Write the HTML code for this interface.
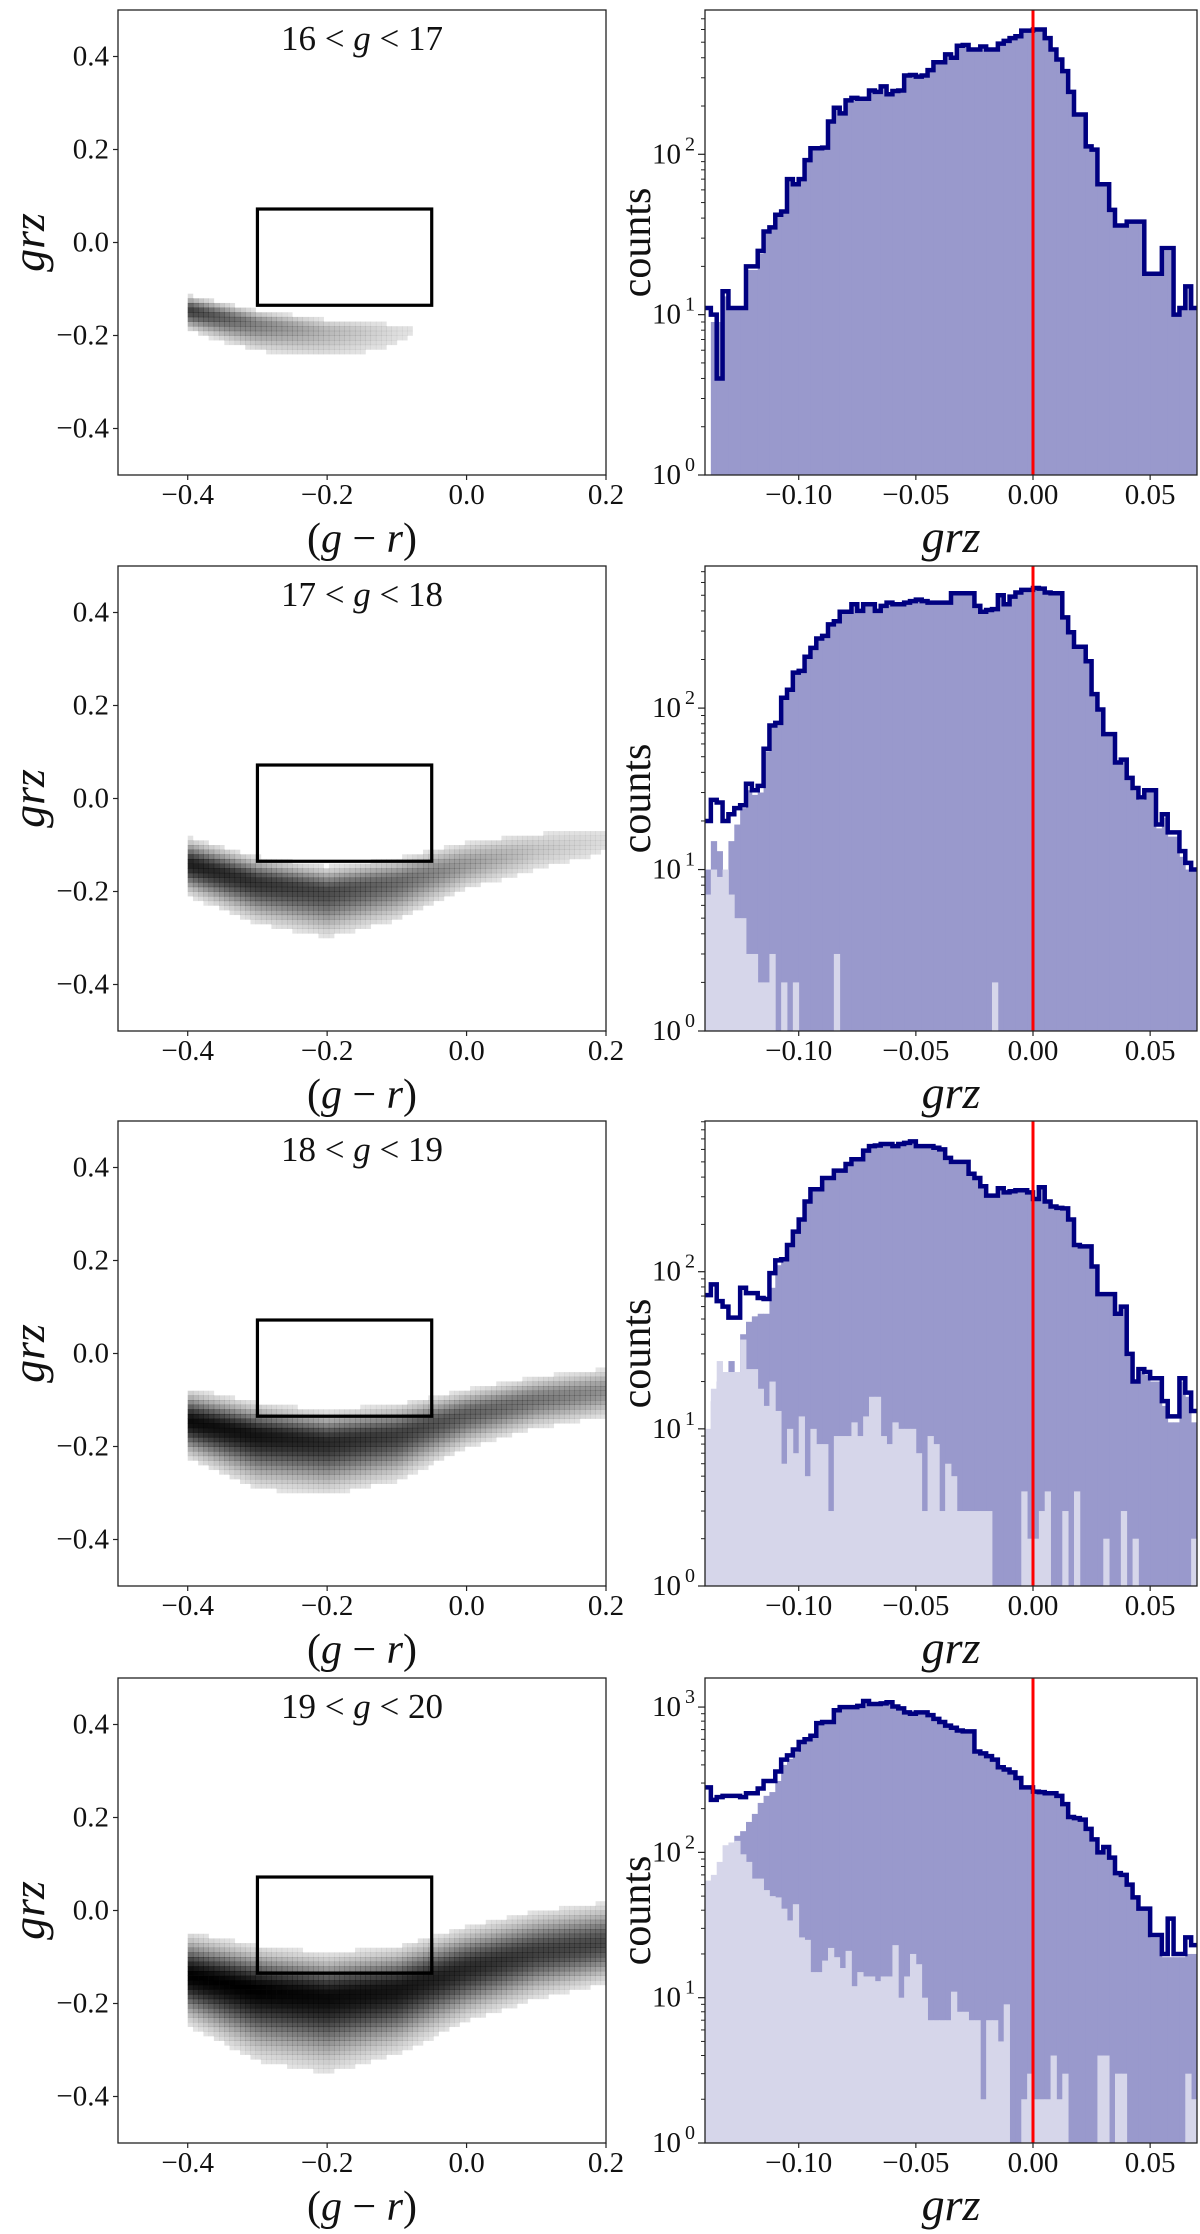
<!DOCTYPE html>
<html><head><meta charset="utf-8"><style>
html,body{margin:0;padding:0;background:#fff;}
svg{display:block;font-family:"Liberation Serif",serif;}
</style></head><body>
<svg id="fig" width="1200" height="2234" viewBox="0 0 1200 2234" xmlns="http://www.w3.org/2000/svg"></svg>
<script>
// ---------- data ----------
const rowTitleLo = ["16","17","18","19"];
const rowTitleHi = ["17","18","19","20"];
const histYmax = [794, 759, 910, 1585];
const histLeft = -0.14, histRight = 0.07, histBinCount = 84;

const totalRow1 = [11,10,4,14,11,11,11,20,20,25,33,35,42,44,70,65,70,92,109,109,110,160,195,180,217,225,222,222,250,245,265,237,248,250,310,312,305,310,335,375,375,420,400,475,480,450,450,470,450,450,490,510,530,545,590,590,600,600,530,450,390,330,245,177,177,112,107,65,65,45,36,36,38,38,38,18,18,18,26,26,10,11,15,11];
const stackRow1 = [0,9,9,13,11,11,11,19,19,24,32,34,41,43,68,63,68,90,106,106,107,156,190,176,212,220,217,217,245,240,260,232,243,245,305,306,300,305,328,368,368,412,392,466,470,441,441,460,441,441,480,500,520,535,580,580,590,590,520,441,382,323,240,173,173,110,105,64,64,44,35,35,37,37,37,18,18,18,25,25,10,11,15,11];
const innerRow1 = [0,0,0,0,0,0,0,0,0,0,0,0,0,0,0,0,0,0,0,0,0,0,0,0,0,0,0,0,0,0,0,0,0,0,0,0,0,0,0,0,0,0,0,0,0,0,0,0,0,0,0,0,0,0,0,0,0,0,0,0,0,0,0,0,0,0,0,0,0,0,0,0,0,0,0,0,0,0,0,0,0,0,0,0];

const totalRow2 = [20,27,26,20,22,24,25,34,31,33,56,78,81,116,130,166,170,208,236,270,280,330,345,395,395,440,400,440,440,400,430,450,440,440,450,460,470,460,450,450,450,450,515,515,515,515,430,395,405,410,500,440,490,520,540,540,555,550,520,515,515,365,295,240,240,195,122,98,69,69,46,48,37,32,28,31,31,19,22,17,17,13,11,10];
const stackRow2 = [10,15,13,0,15,19,24,31,29,30,54,76,80,114,128,163,167,204,232,265,275,325,340,390,390,433,394,433,433,394,424,443,433,433,443,453,463,453,443,443,443,443,507,507,507,507,424,390,400,404,493,433,483,512,532,532,547,542,512,507,507,360,291,237,237,193,120,97,68,68,45,47,36,31,27,30,30,18,21,16,16,12,10,10];
const innerRow2 = [7,10,9,10,7,5,5,3,3,2,2,3,0,2,0,2,0,0,0,0,0,0,3,0,0,0,0,0,0,0,0,0,0,0,0,0,0,0,0,0,0,0,0,0,0,0,0,0,0,2,0,0,0,0,0,0,0,0,0,0,0,0,0,0,0,0,0,0,0,0,0,0,0,0,0,0,0,0,0,0,0,0,0,0];

const totalRow3 = [71,83,65,60,51,51,79,73,73,68,67,98,118,120,148,180,215,280,335,335,395,395,440,440,485,520,520,590,630,635,650,650,630,650,660,675,630,630,630,615,600,530,500,500,500,420,395,350,305,305,340,320,325,330,330,320,290,345,280,260,255,253,215,148,145,145,108,72,72,72,54,60,30,20,24,23,21,21,15,12,12,21,17,13];
const stackRow3 = [8,15,20,20,27,20,40,48,52,54,54,79,110,117,144,176,210,274,328,328,387,387,431,431,475,510,510,578,617,622,637,637,617,637,647,662,617,617,617,603,588,520,490,490,490,412,387,343,299,299,333,314,318,323,323,314,284,338,274,255,250,248,211,145,142,142,106,71,71,71,53,59,29,20,23,22,20,20,14,11,11,20,16,11];
const innerRow3 = [10,18,27,23,23,23,37,24,24,18,14,20,13,6,10,7,12,5,10,8,8,3,9,9,9,11,9,12,16,16,9,8,11,10,10,10,7,3,9,8,3,6,5,3,3,3,3,3,3,0,0,0,0,0,4,2,2,3,4,0,0,3,0,4,0,0,0,0,2,0,0,3,0,2,0,0,0,0,0,0,0,0,0,2];

const totalRow4 = [280,230,240,245,245,245,240,255,255,275,310,310,360,435,465,510,575,600,635,775,790,790,950,1000,1000,1000,1020,1100,1050,1050,1060,1080,1010,980,920,900,920,920,880,830,790,745,720,690,680,680,495,480,460,435,385,372,355,325,280,280,262,260,255,255,245,215,175,172,168,145,123,100,109,92,72,70,60,49,41,41,27,27,20,35,20,20,26,23];
const stackRow4 = [0,0,0,0,0,130,140,162,184,219,245,260,310,400,440,490,560,590,625,760,775,775,935,985,985,985,1005,1080,1035,1035,1045,1065,995,965,905,885,905,905,865,815,775,730,705,675,665,665,485,470,450,425,377,365,348,318,275,275,257,255,250,250,240,211,172,169,165,142,121,98,107,90,71,69,59,48,40,40,26,26,19,19,19,19,20,20];
const innerRow4 = [64,70,86,112,117,120,97,86,66,66,55,50,49,41,34,44,26,25,15,15,18,22,19,16,21,12,15,14,14,13,14,14,23,10,14,20,17,10,7,7,7,7,11,8,8,7,7,2,7,7,5,9,0,0,2,3,2,2,2,4,2,3,0,0,0,0,0,4,4,0,3,3,0,0,0,0,0,0,0,0,0,0,3,2];

const totals = [totalRow1,totalRow2,totalRow3,totalRow4];
const stacks = [stackRow1,stackRow2,stackRow3,stackRow4];
const inners = [innerRow1,innerRow2,innerRow3,innerRow4];

// colour-colour density band (per g-r anchor)
const bandGR = [-0.4,-0.3,-0.2,-0.1,0.0,0.1,0.2];
const bandCenter = [[-0.145,-0.175,-0.19,-0.19,-0.17,-0.15,-0.13],[-0.14,-0.18,-0.2,-0.18,-0.14,-0.11,-0.09],[-0.145,-0.175,-0.19,-0.175,-0.13,-0.1,-0.08],[-0.14,-0.17,-0.185,-0.17,-0.125,-0.09,-0.07]];
const bandSigUp = [[0.015,0.015,0.015,0.015,0.015,0.015,0.015],[0.025,0.025,0.025,0.025,0.025,0.025,0.025],[0.03,0.03,0.03,0.03,0.025,0.025,0.025],[0.04,0.04,0.04,0.04,0.04,0.04,0.04]];
const bandSigDown = [[0.02,0.03,0.035,0.035,0.03,0.03,0.03],[0.03,0.04,0.045,0.04,0.03,0.03,0.03],[0.035,0.05,0.05,0.045,0.035,0.03,0.03],[0.045,0.065,0.07,0.06,0.05,0.045,0.04]];
const bandPeak = [[0.7,0.4,0.2,0.08,0,0,0],[0.85,0.75,0.65,0.5,0.3,0.15,0.08],[0.95,0.9,0.8,0.7,0.55,0.45,0.35],[1.0,1.0,0.95,0.9,0.8,0.7,0.65]];
const boxGR = [-0.3,-0.05], boxGRZ = [-0.135,0.072];

const leftXTicks = [-0.4,-0.2,0.0,0.2], leftXLabels = ["\u22120.4","\u22120.2","0.0","0.2"];
const leftYTicks = [-0.4,-0.2,0.0,0.2,0.4], leftYLabels = ["\u22120.4","\u22120.2","0.0","0.2","0.4"];
const rightXTicks = [-0.10,-0.05,0.0,0.05], rightXLabels = ["\u22120.10","\u22120.05","0.00","0.05"];

// ---------- layout ----------
const NS="http://www.w3.org/2000/svg";
const svg=document.getElementById('fig');
const rowTops=[10,566,1121,1678], PH=465;
const LX0=118, LX1=606, RX0=705, RX1=1197;
function mk(tag,attrs,parent){const e=document.createElementNS(NS,tag);for(const k in attrs)e.setAttribute(k,attrs[k]);(parent||svg).appendChild(e);return e;}
function interp(arr,x){if(x<=bandGR[0])return arr[0];for(let i=0;i<bandGR.length-1;i++){if(x<=bandGR[i+1]){const t=(x-bandGR[i])/(bandGR[i+1]-bandGR[i]);return arr[i]+t*(arr[i+1]-arr[i]);}}return arr[arr.length-1];}

for(let r=0;r<4;r++){
  const top=rowTops[r], bot=top+PH;
  // ===== left panel =====
  const gL=mk('g',{});
  
  
  const sx=v=>LX0+(v+0.5)/0.7*(LX1-LX0);
  const sy=v=>bot-(v+0.5)/1.0*PH;
  const cells=mk('g',{},gL);
  
  
  const dx=0.0075, dy=0.01;
  for(let gx=-0.4; gx<0.2-1e-9; gx+=dx){
    const xc=gx+dx/2;
    const c=interp(bandCenter[r],xc), su=interp(bandSigUp[r],xc), sd=interp(bandSigDown[r],xc), pk=interp(bandPeak[r],xc);
    for(let gy=-0.5; gy<0.5-1e-9; gy+=dy){
      const yc=gy+dy/2, s=yc>c?su:sd;
      let d=pk*Math.exp(-0.5*((yc-c)/s)*((yc-c)/s));
      if(d<0.06) continue;
      d=Math.pow(d,0.8);
      const rc=mk('rect',{x:sx(gx).toFixed(2),y:sy(gy+dy).toFixed(2),width:(sx(gx+dx)-sx(gx)+0.3).toFixed(2),height:(sy(gy)-sy(gy+dy)+0.3).toFixed(2),fill:'#000','fill-opacity':Math.min(1,d).toFixed(3)},cells);
      
      
    }
  }
  const box=mk('rect',{x:sx(boxGR[0]),y:sy(boxGRZ[1]),width:sx(boxGR[1])-sx(boxGR[0]),height:sy(boxGRZ[0])-sy(boxGRZ[1]),fill:'none',stroke:'#000','stroke-width':3.2},gL);
  
  
  const fr=mk('rect',{x:LX0,y:top,width:LX1-LX0,height:PH,fill:'none',stroke:'#222','stroke-width':1.3},gL);
  
  
  leftXTicks.forEach((v,i)=>{
    mk('line',{x1:sx(v),x2:sx(v),y1:bot,y2:bot+5,stroke:'#222','stroke-width':1.2},gL);
    const t=mk('text',{x:sx(v),y:bot+29,'font-size':29,'text-anchor':'middle',fill:'#111'},gL);t.textContent=leftXLabels[i];
    
    
  });
  leftYTicks.forEach((v,i)=>{
    mk('line',{x1:LX0-5,x2:LX0,y1:sy(v),y2:sy(v),stroke:'#222','stroke-width':1.2},gL);
    const t=mk('text',{x:LX0-9,y:sy(v)+9,'font-size':29,'text-anchor':'end',fill:'#111'},gL);t.textContent=leftYLabels[i];
    
    
  });
  const ti=mk('text',{x:(LX0+LX1)/2,y:top+40,'font-size':35,'text-anchor':'middle',fill:'#111'},gL);
  ti.innerHTML=rowTitleLo[r]+' &lt; <tspan font-style="italic">g</tspan> &lt; '+rowTitleHi[r];
  
  
  const xl=mk('text',{x:(LX0+LX1)/2,y:bot+77,'font-size':42,'text-anchor':'middle',fill:'#111'},gL);
  xl.innerHTML='(<tspan font-style="italic">g</tspan> \u2212 <tspan font-style="italic">r</tspan>)';
  
  
  const yl=mk('text',{x:0,y:0,'font-size':46,'font-style':'italic','text-anchor':'middle',fill:'#111',transform:'translate(44,'+(top+PH/2)+') rotate(-90)'},gL);
  yl.textContent='grz';
  
  

  // ===== right panel =====
  const gR=mk('g',{});
  
  
  const hx=v=>RX0+(v-histLeft)/(histRight-histLeft)*(RX1-RX0);
  const lmax=Math.log10(histYmax[r]);
  const hy=v=>bot-Math.log10(v)/lmax*PH;
  const bw=(histRight-histLeft)/histBinCount;
  const clip=mk('clipPath',{id:'clip'+r},gR);
  mk('rect',{x:RX0,y:top,width:RX1-RX0,height:PH},clip);
  const plot=mk('g',{'clip-path':'url(#clip'+r+')'},gR);
  stacks[r].forEach((v,i)=>{
    if(v<1)return;
    const b=mk('rect',{x:hx(histLeft+i*bw),y:hy(v),width:hx(histLeft+(i+1)*bw)-hx(histLeft+i*bw)+0.4,height:bot-hy(v),fill:'#9999cc'},plot);
    
    
  });
  inners[r].forEach((v,i)=>{
    if(v<1)return;
    const b=mk('rect',{x:hx(histLeft+i*bw),y:hy(v),width:hx(histLeft+(i+1)*bw)-hx(histLeft+i*bw)+0.4,height:bot-hy(v),fill:'#d6d6ea'},plot);
    
    
  });
  let d='';
  totals[r].forEach((v,i)=>{
    const y=hy(Math.max(v,0.5));
    const x0=hx(histLeft+i*bw), x1=hx(histLeft+(i+1)*bw);
    d+=(i===0?'M'+x0+' '+y:'L'+x0+' '+y)+' L'+x1+' '+y+' ';
  });
  const st=mk('path',{d:d,fill:'none',stroke:'#000080','stroke-width':4.5,'stroke-linejoin':'miter'},plot);
  
  
  const rl=mk('line',{x1:hx(0),x2:hx(0),y1:top,y2:bot,stroke:'#ff0000','stroke-width':3},plot);
  
  
  const fr2=mk('rect',{x:RX0,y:top,width:RX1-RX0,height:PH,fill:'none',stroke:'#222','stroke-width':1.3},gR);
  
  
  rightXTicks.forEach((v,i)=>{
    mk('line',{x1:hx(v),x2:hx(v),y1:bot,y2:bot+5,stroke:'#222','stroke-width':1.2},gR);
    const t=mk('text',{x:hx(v),y:bot+29,'font-size':29,'text-anchor':'middle',fill:'#111'},gR);t.textContent=rightXLabels[i];
    
    
  });
  for(let k=0;k<=Math.floor(lmax);k++){
    const y=hy(Math.pow(10,k));
    mk('line',{x1:RX0-7,x2:RX0,y1:y,y2:y,stroke:'#222','stroke-width':1.2},gR);
    const t=mk('text',{x:RX0-24,y:y+9,'font-size':29,'text-anchor':'end',fill:'#111'},gR);
    t.textContent='10';
    
    
    const e=mk('text',{x:RX0-10,y:y-4,'font-size':20,'text-anchor':'end',fill:'#111'},gR);e.textContent=String(k);
    for(let m=2;m<=9;m++){const mv=m*Math.pow(10,k);if(Math.log10(mv)>lmax)break;const my=hy(mv);mk('line',{x1:RX0-4,x2:RX0,y1:my,y2:my,stroke:'#222','stroke-width':1},gR);}
  }
  const xl2=mk('text',{x:(RX0+RX1)/2,y:bot+77,'font-size':46,'font-style':'italic','text-anchor':'middle',fill:'#111'},gR);
  xl2.textContent='grz';
  
  
  const yl2=mk('text',{x:0,y:0,'font-size':42,'text-anchor':'middle',fill:'#111',transform:'translate(650,'+(top+PH/2)+') rotate(-90)'},gR);
  yl2.textContent='counts';
  
  
}
</script>
</body></html>
